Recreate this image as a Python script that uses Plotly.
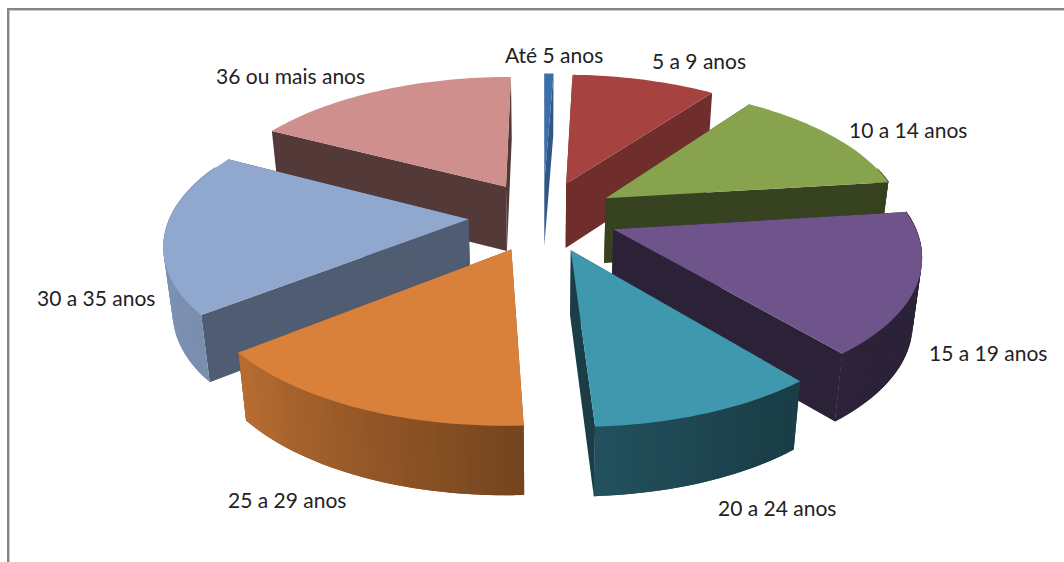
import numpy as np
import plotly.graph_objects as go

# Age bands and their share of the total, clockwise from twelve o'clock
categories = ["Até 5 anos", "5 a 9 anos", "10 a 14 anos", "15 a 19 anos",
              "20 a 24 anos", "25 a 29 anos", "30 a 35 anos", "36 ou mais anos"]
shares = [0.6, 9.3, 13.1, 16.1, 10.1, 15.0, 18.6, 17.2]

top_colors = ["#3c6ea8", "#a64340", "#87a34d", "#6f548c",
              "#4098ae", "#d9803a", "#90a7ce", "#cf8f8d"]
face_shade = [0.8, 0.67, 0.41, 0.40, 0.40, 0.55, 0.55, 0.40]
label_x = [554, 699, 908, 988, 777, 287, 96, 290]
label_y = [54, 60, 129, 352, 507, 499, 297, 75]

# Projection of the pie onto the page, in pixels
CX, CY = 543, 216
RX, RY = 298, 136
PERSPECTIVE = 0.16
EXPLODE_X, EXPLODE_Y = 0.25, 0.26
THICKNESS = 65
BASE_SHRINK = 0.975


def project(px, py, lower=False):
    s = 1 / (1 - PERSPECTIVE * py)
    x = RX * px * s
    y = CY + RY * py * s
    if lower:
        x *= BASE_SHRINK
        y += THICKNESS * (0.72 + 0.28 * s)
    return CX + x, y


def shaded(color, k):
    r, g, b = (int(color[i:i + 2], 16) for i in (1, 3, 5))
    return f"rgb({r * k:.0f},{g * k:.0f},{b * k:.0f})"


def wall_shade(deg):
    return float(np.interp(deg, [0, 70, 135, 150, 180, 231, 300, 360],
                           [0.6, 0.40, 0.40, 0.42, 0.55, 0.85, 0.90, 0.7]))


fig = go.Figure()


def polygon(xs, ys, color):
    fig.add_trace(go.Scatter(
        x=list(xs) + [xs[0]], y=list(ys) + [ys[0]], mode="none", fill="toself",
        fillcolor=color, hoverinfo="skip", showlegend=False))


edges = np.cumsum([0] + shares) / sum(shares) * 360
slices = list(range(len(shares)))
mids = [(edges[i] + edges[i + 1]) / 2 for i in slices]
# Paint from the back of the pie to the front
slices.sort(key=lambda i: -np.cos(np.radians(mids[i])))

for i in slices:
    a0, a1 = edges[i], edges[i + 1]
    mid = np.radians(mids[i])
    ox, oy = EXPLODE_X * np.sin(mid), -EXPLODE_Y * np.cos(mid)
    n = max(2, int((a1 - a0) / 1.5))
    degs = np.linspace(a0, a1, n + 1)
    ax = ox + np.sin(np.radians(degs))
    ay = oy - np.cos(np.radians(degs))
    col = top_colors[i]

    # Cut faces running from the hub to the rim
    for j in (0, -1):
        t0, b0 = project(ox, oy), project(ox, oy, True)
        t1, b1 = project(ax[j], ay[j]), project(ax[j], ay[j], True)
        polygon([t0[0], t1[0], b1[0], b0[0]], [t0[1], t1[1], b1[1], b0[1]],
                shaded(col, face_shade[i]))

    # Rim bands overlap their neighbour so the shading steps leave no seam
    for j in range(n):
        if ay[j] < -0.35 and ay[j + 1] < -0.35:
            continue
        k = min(j + 2, n)
        t0, t1 = project(ax[j], ay[j]), project(ax[k], ay[k])
        b0, b1 = project(ax[j], ay[j], True), project(ax[k], ay[k], True)
        polygon([t0[0], t1[0], b1[0], b0[0]], [t0[1] - 1, t1[1] - 1, b1[1], b0[1]],
                shaded(col, wall_shade((degs[j] + degs[j + 1]) / 2)))

    # Upper surface
    rim = [project(x, y) for x, y in zip(ax, ay)]
    hub = project(ox, oy)
    polygon([hub[0]] + [p[0] for p in rim], [hub[1]] + [p[1] for p in rim], col)

for name, x, y in zip(categories, label_x, label_y):
    fig.add_annotation(x=x, y=y, text=name, showarrow=False,
                       font=dict(family="Lato", size=21, color="#222222"))

fig.add_shape(type="line", x0=8, x1=1064, y0=10.5, y1=10.5, line=dict(color="#c8c8c8", width=1))
fig.add_shape(type="line", x0=9.5, x1=9.5, y0=10, y1=562, line=dict(color="#c8c8c8", width=1))
fig.add_shape(type="line", x0=8, x1=1064, y0=9, y1=9, line=dict(color="#858585", width=2))
fig.add_shape(type="line", x0=8, x1=8, y0=8, y1=562, line=dict(color="#858585", width=2))

fig.update_layout(
    width=1064, height=562, margin=dict(l=0, r=0, t=0, b=0),
    paper_bgcolor="white", plot_bgcolor="white", showlegend=False,
    xaxis=dict(range=[0, 1064], visible=False, fixedrange=True),
    yaxis=dict(range=[562, 0], visible=False, fixedrange=True),
)
fig.write_html("out.html", config={"displayModeBar": False})
